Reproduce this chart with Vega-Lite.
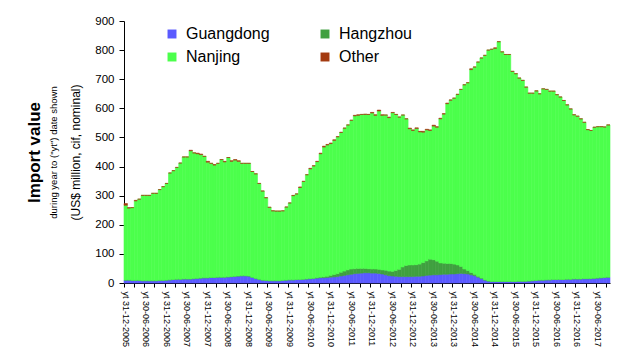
{
"$schema": "https://vega.github.io/schema/vega-lite/v6.json",
"width": 486, "height": 262,
"padding": {"left": 25, "top": 15, "right": 20, "bottom": 2},
"background": "white",
"config": {"view": {"stroke": null}, "font": "Liberation Sans",
  "axis": {"domainColor": "black", "tickColor": "black", "labelColor": "black", "titleColor": "black", "grid": false}},
"data": {"values": [
{"m":"2005-12","Guangdong":10,"Hangzhou":0,"Nanjing":257,"Other":6},
{"m":"2006-01","Guangdong":10,"Hangzhou":0,"Nanjing":247,"Other":2},
{"m":"2006-02","Guangdong":9,"Hangzhou":0,"Nanjing":250,"Other":0},
{"m":"2006-03","Guangdong":9,"Hangzhou":0,"Nanjing":273,"Other":2},
{"m":"2006-04","Guangdong":9,"Hangzhou":0,"Nanjing":279,"Other":0},
{"m":"2006-05","Guangdong":8,"Hangzhou":0,"Nanjing":293,"Other":0},
{"m":"2006-06","Guangdong":8,"Hangzhou":0,"Nanjing":293,"Other":0},
{"m":"2006-07","Guangdong":8,"Hangzhou":0,"Nanjing":293,"Other":0},
{"m":"2006-08","Guangdong":8,"Hangzhou":0,"Nanjing":300,"Other":0},
{"m":"2006-09","Guangdong":8,"Hangzhou":0,"Nanjing":300,"Other":0},
{"m":"2006-10","Guangdong":9,"Hangzhou":0,"Nanjing":312,"Other":0},
{"m":"2006-11","Guangdong":9,"Hangzhou":0,"Nanjing":322,"Other":0},
{"m":"2006-12","Guangdong":10,"Hangzhou":0,"Nanjing":332,"Other":0},
{"m":"2007-01","Guangdong":11,"Hangzhou":0,"Nanjing":367,"Other":0},
{"m":"2007-02","Guangdong":12,"Hangzhou":0,"Nanjing":374,"Other":0},
{"m":"2007-03","Guangdong":13,"Hangzhou":0,"Nanjing":384,"Other":0},
{"m":"2007-04","Guangdong":13,"Hangzhou":0,"Nanjing":399,"Other":0},
{"m":"2007-05","Guangdong":14,"Hangzhou":0,"Nanjing":419,"Other":0},
{"m":"2007-06","Guangdong":14,"Hangzhou":0,"Nanjing":419,"Other":0},
{"m":"2007-07","Guangdong":14,"Hangzhou":0,"Nanjing":440,"Other":2},
{"m":"2007-08","Guangdong":15,"Hangzhou":0,"Nanjing":432,"Other":0},
{"m":"2007-09","Guangdong":16,"Hangzhou":0,"Nanjing":428,"Other":2},
{"m":"2007-10","Guangdong":17,"Hangzhou":0,"Nanjing":424,"Other":2},
{"m":"2007-11","Guangdong":18,"Hangzhou":0,"Nanjing":417,"Other":0},
{"m":"2007-12","Guangdong":18,"Hangzhou":0,"Nanjing":397,"Other":3},
{"m":"2008-01","Guangdong":19,"Hangzhou":0,"Nanjing":392,"Other":0},
{"m":"2008-02","Guangdong":19,"Hangzhou":0,"Nanjing":386,"Other":2},
{"m":"2008-03","Guangdong":20,"Hangzhou":0,"Nanjing":391,"Other":0},
{"m":"2008-04","Guangdong":20,"Hangzhou":0,"Nanjing":404,"Other":0},
{"m":"2008-05","Guangdong":20,"Hangzhou":0,"Nanjing":396,"Other":2},
{"m":"2008-06","Guangdong":21,"Hangzhou":0,"Nanjing":410,"Other":0},
{"m":"2008-07","Guangdong":22,"Hangzhou":0,"Nanjing":396,"Other":2},
{"m":"2008-08","Guangdong":23,"Hangzhou":0,"Nanjing":399,"Other":2},
{"m":"2008-09","Guangdong":24,"Hangzhou":0,"Nanjing":394,"Other":2},
{"m":"2008-10","Guangdong":25,"Hangzhou":0,"Nanjing":386,"Other":0},
{"m":"2008-11","Guangdong":25,"Hangzhou":0,"Nanjing":386,"Other":0},
{"m":"2008-12","Guangdong":24,"Hangzhou":0,"Nanjing":387,"Other":0},
{"m":"2009-01","Guangdong":20,"Hangzhou":0,"Nanjing":363,"Other":0},
{"m":"2009-02","Guangdong":16,"Hangzhou":0,"Nanjing":359,"Other":0},
{"m":"2009-03","Guangdong":13,"Hangzhou":0,"Nanjing":329,"Other":0},
{"m":"2009-04","Guangdong":10,"Hangzhou":0,"Nanjing":306,"Other":0},
{"m":"2009-05","Guangdong":9,"Hangzhou":0,"Nanjing":284,"Other":0},
{"m":"2009-06","Guangdong":8,"Hangzhou":0,"Nanjing":252,"Other":0},
{"m":"2009-07","Guangdong":8,"Hangzhou":0,"Nanjing":240,"Other":0},
{"m":"2009-08","Guangdong":8,"Hangzhou":0,"Nanjing":239,"Other":0},
{"m":"2009-09","Guangdong":8,"Hangzhou":0,"Nanjing":239,"Other":0},
{"m":"2009-10","Guangdong":9,"Hangzhou":0,"Nanjing":239,"Other":0},
{"m":"2009-11","Guangdong":10,"Hangzhou":0,"Nanjing":251,"Other":0},
{"m":"2009-12","Guangdong":11,"Hangzhou":0,"Nanjing":264,"Other":0},
{"m":"2010-01","Guangdong":11,"Hangzhou":0,"Nanjing":289,"Other":1},
{"m":"2010-02","Guangdong":12,"Hangzhou":0,"Nanjing":294,"Other":0},
{"m":"2010-03","Guangdong":12,"Hangzhou":0,"Nanjing":316,"Other":2},
{"m":"2010-04","Guangdong":13,"Hangzhou":0,"Nanjing":336,"Other":0},
{"m":"2010-05","Guangdong":14,"Hangzhou":0,"Nanjing":358,"Other":0},
{"m":"2010-06","Guangdong":15,"Hangzhou":0,"Nanjing":377,"Other":2},
{"m":"2010-07","Guangdong":16,"Hangzhou":0,"Nanjing":386,"Other":1},
{"m":"2010-08","Guangdong":17,"Hangzhou":1,"Nanjing":399,"Other":1},
{"m":"2010-09","Guangdong":18,"Hangzhou":2,"Nanjing":424,"Other":2},
{"m":"2010-10","Guangdong":18,"Hangzhou":3,"Nanjing":446,"Other":3},
{"m":"2010-11","Guangdong":19,"Hangzhou":4,"Nanjing":451,"Other":2},
{"m":"2010-12","Guangdong":20,"Hangzhou":6,"Nanjing":453,"Other":2},
{"m":"2011-01","Guangdong":21,"Hangzhou":8,"Nanjing":461,"Other":2},
{"m":"2011-02","Guangdong":22,"Hangzhou":10,"Nanjing":470,"Other":1},
{"m":"2011-03","Guangdong":24,"Hangzhou":13,"Nanjing":480,"Other":1},
{"m":"2011-04","Guangdong":26,"Hangzhou":15,"Nanjing":491,"Other":0},
{"m":"2011-05","Guangdong":28,"Hangzhou":17,"Nanjing":498,"Other":0},
{"m":"2011-06","Guangdong":30,"Hangzhou":18,"Nanjing":511,"Other":0},
{"m":"2011-07","Guangdong":32,"Hangzhou":17,"Nanjing":525,"Other":2},
{"m":"2011-08","Guangdong":33,"Hangzhou":17,"Nanjing":526,"Other":2},
{"m":"2011-09","Guangdong":34,"Hangzhou":16,"Nanjing":529,"Other":0},
{"m":"2011-10","Guangdong":35,"Hangzhou":15,"Nanjing":529,"Other":1},
{"m":"2011-11","Guangdong":35,"Hangzhou":14,"Nanjing":530,"Other":0},
{"m":"2011-12","Guangdong":34,"Hangzhou":14,"Nanjing":536,"Other":2},
{"m":"2012-01","Guangdong":34,"Hangzhou":14,"Nanjing":528,"Other":2},
{"m":"2012-02","Guangdong":33,"Hangzhou":14,"Nanjing":544,"Other":3},
{"m":"2012-03","Guangdong":31,"Hangzhou":14,"Nanjing":531,"Other":2},
{"m":"2012-04","Guangdong":28,"Hangzhou":16,"Nanjing":533,"Other":0},
{"m":"2012-05","Guangdong":25,"Hangzhou":16,"Nanjing":527,"Other":2},
{"m":"2012-06","Guangdong":24,"Hangzhou":16,"Nanjing":545,"Other":1},
{"m":"2012-07","Guangdong":23,"Hangzhou":20,"Nanjing":536,"Other":0},
{"m":"2012-08","Guangdong":22,"Hangzhou":25,"Nanjing":523,"Other":0},
{"m":"2012-09","Guangdong":22,"Hangzhou":33,"Nanjing":522,"Other":0},
{"m":"2012-10","Guangdong":22,"Hangzhou":38,"Nanjing":504,"Other":0},
{"m":"2012-11","Guangdong":22,"Hangzhou":40,"Nanjing":468,"Other":2},
{"m":"2012-12","Guangdong":22,"Hangzhou":40,"Nanjing":462,"Other":2},
{"m":"2013-01","Guangdong":23,"Hangzhou":40,"Nanjing":468,"Other":2},
{"m":"2013-02","Guangdong":23,"Hangzhou":42,"Nanjing":454,"Other":2},
{"m":"2013-03","Guangdong":24,"Hangzhou":46,"Nanjing":448,"Other":3},
{"m":"2013-04","Guangdong":26,"Hangzhou":50,"Nanjing":450,"Other":2},
{"m":"2013-05","Guangdong":27,"Hangzhou":55,"Nanjing":442,"Other":2},
{"m":"2013-06","Guangdong":28,"Hangzhou":52,"Nanjing":459,"Other":3},
{"m":"2013-07","Guangdong":28,"Hangzhou":47,"Nanjing":460,"Other":2},
{"m":"2013-08","Guangdong":29,"Hangzhou":40,"Nanjing":495,"Other":2},
{"m":"2013-09","Guangdong":30,"Hangzhou":38,"Nanjing":512,"Other":2},
{"m":"2013-10","Guangdong":30,"Hangzhou":37,"Nanjing":549,"Other":2},
{"m":"2013-11","Guangdong":31,"Hangzhou":36,"Nanjing":561,"Other":1},
{"m":"2013-12","Guangdong":31,"Hangzhou":34,"Nanjing":570,"Other":0},
{"m":"2014-01","Guangdong":32,"Hangzhou":30,"Nanjing":586,"Other":0},
{"m":"2014-02","Guangdong":33,"Hangzhou":24,"Nanjing":608,"Other":0},
{"m":"2014-03","Guangdong":32,"Hangzhou":16,"Nanjing":633,"Other":0},
{"m":"2014-04","Guangdong":31,"Hangzhou":12,"Nanjing":645,"Other":0},
{"m":"2014-05","Guangdong":28,"Hangzhou":8,"Nanjing":697,"Other":3},
{"m":"2014-06","Guangdong":25,"Hangzhou":5,"Nanjing":712,"Other":0},
{"m":"2014-07","Guangdong":20,"Hangzhou":3,"Nanjing":736,"Other":0},
{"m":"2014-08","Guangdong":15,"Hangzhou":2,"Nanjing":756,"Other":0},
{"m":"2014-09","Guangdong":10,"Hangzhou":1,"Nanjing":771,"Other":0},
{"m":"2014-10","Guangdong":7,"Hangzhou":0,"Nanjing":793,"Other":0},
{"m":"2014-11","Guangdong":5,"Hangzhou":0,"Nanjing":798,"Other":0},
{"m":"2014-12","Guangdong":5,"Hangzhou":0,"Nanjing":801,"Other":2},
{"m":"2015-01","Guangdong":5,"Hangzhou":0,"Nanjing":824,"Other":0},
{"m":"2015-02","Guangdong":5,"Hangzhou":0,"Nanjing":789,"Other":0},
{"m":"2015-03","Guangdong":5,"Hangzhou":0,"Nanjing":780,"Other":0},
{"m":"2015-04","Guangdong":5,"Hangzhou":0,"Nanjing":780,"Other":0},
{"m":"2015-05","Guangdong":5,"Hangzhou":0,"Nanjing":722,"Other":0},
{"m":"2015-06","Guangdong":5,"Hangzhou":0,"Nanjing":714,"Other":0},
{"m":"2015-07","Guangdong":6,"Hangzhou":0,"Nanjing":698,"Other":0},
{"m":"2015-08","Guangdong":6,"Hangzhou":0,"Nanjing":690,"Other":0},
{"m":"2015-09","Guangdong":6,"Hangzhou":0,"Nanjing":667,"Other":0},
{"m":"2015-10","Guangdong":7,"Hangzhou":0,"Nanjing":645,"Other":0},
{"m":"2015-11","Guangdong":8,"Hangzhou":0,"Nanjing":644,"Other":0},
{"m":"2015-12","Guangdong":9,"Hangzhou":0,"Nanjing":651,"Other":0},
{"m":"2016-01","Guangdong":10,"Hangzhou":0,"Nanjing":640,"Other":0},
{"m":"2016-02","Guangdong":10,"Hangzhou":0,"Nanjing":657,"Other":0},
{"m":"2016-03","Guangdong":11,"Hangzhou":0,"Nanjing":654,"Other":0},
{"m":"2016-04","Guangdong":11,"Hangzhou":0,"Nanjing":648,"Other":0},
{"m":"2016-05","Guangdong":12,"Hangzhou":0,"Nanjing":647,"Other":0},
{"m":"2016-06","Guangdong":12,"Hangzhou":0,"Nanjing":635,"Other":0},
{"m":"2016-07","Guangdong":12,"Hangzhou":0,"Nanjing":627,"Other":0},
{"m":"2016-08","Guangdong":12,"Hangzhou":0,"Nanjing":615,"Other":0},
{"m":"2016-09","Guangdong":13,"Hangzhou":0,"Nanjing":599,"Other":0},
{"m":"2016-10","Guangdong":13,"Hangzhou":0,"Nanjing":585,"Other":0},
{"m":"2016-11","Guangdong":14,"Hangzhou":0,"Nanjing":564,"Other":0},
{"m":"2016-12","Guangdong":14,"Hangzhou":0,"Nanjing":559,"Other":0},
{"m":"2017-01","Guangdong":14,"Hangzhou":0,"Nanjing":550,"Other":0},
{"m":"2017-02","Guangdong":15,"Hangzhou":0,"Nanjing":537,"Other":0},
{"m":"2017-03","Guangdong":15,"Hangzhou":0,"Nanjing":512,"Other":0},
{"m":"2017-04","Guangdong":15,"Hangzhou":0,"Nanjing":509,"Other":0},
{"m":"2017-05","Guangdong":16,"Hangzhou":0,"Nanjing":519,"Other":0},
{"m":"2017-06","Guangdong":17,"Hangzhou":0,"Nanjing":520,"Other":0},
{"m":"2017-07","Guangdong":18,"Hangzhou":0,"Nanjing":519,"Other":0},
{"m":"2017-08","Guangdong":19,"Hangzhou":0,"Nanjing":517,"Other":0},
{"m":"2017-09","Guangdong":20,"Hangzhou":0,"Nanjing":523,"Other":0}
]},
"transform": [{"fold": ["Guangdong", "Hangzhou", "Nanjing", "Other"], "as": ["region", "value"]}],
"resolve": {"axis": {"y": "independent"}},
"layer": [
  {"mark": {"type": "bar", "strokeWidth": 0.6},
   "encoding": {
     "x": {"field": "m", "type": "ordinal", "scale": {"paddingInner": 0, "paddingOuter": 0},
       "axis": {"title": null, "bandPosition": 0, "labelAngle": 90, "labelFontSize": 9, "labelPadding": 4, "tickSize": 4,
         "labelOverlap": false, "labelBound": false,
         "values": ["2005-12","2006-03","2006-06","2006-09","2006-12","2007-03","2007-06","2007-09","2007-12","2008-03","2008-06","2008-09","2008-12","2009-03","2009-06","2009-09","2009-12","2010-03","2010-06","2010-09","2010-12","2011-03","2011-06","2011-09","2011-12","2012-03","2012-06","2012-09","2012-12","2013-03","2013-06","2013-09","2013-12","2014-03","2014-06","2014-09","2014-12","2015-03","2015-06","2015-09","2015-12","2016-03","2016-06","2016-09","2016-12","2017-03","2017-06","2017-09"],
         "labelExpr": "substring(datum.value,5,7)=='12' ? 'yt 31-12-'+substring(datum.value,0,4) : (substring(datum.value,5,7)=='06' ? 'yt 30-06-'+substring(datum.value,0,4) : '')"}},
     "y": {"field": "value", "type": "quantitative", "stack": "zero", "scale": {"domain": [0, 900]},
       "axis": {"orient": "left", "title": "(US$ million, cif, nominal)", "titleFontSize": 12, "titleFontWeight": "normal", "titlePadding": 12,
         "values": [0,100,200,300,400,500,600,700,800,900], "labelFontSize": 11.5, "tickSize": 5, "labelPadding": 5}},
     "order": {"field": "region", "sort": "ascending"},
     "color": {"field": "region", "type": "nominal",
       "scale": {"domain": ["Guangdong", "Hangzhou", "Nanjing", "Other"], "range": ["#5a5aff", "#40a040", "#4cff4c", "#a33a10"]},
       "legend": {"title": null, "orient": "none", "legendX": 40, "legendY": 5, "columns": 2, "direction": "horizontal", "columnPadding": 47, "rowPadding": 7,
         "padding": 0, "symbolType": "square", "symbolSize": 80, "symbolStrokeWidth": 0, "labelFontSize": 16, "labelColor": "black", "labelOffset": 6}},
     "stroke": {"field": "region", "type": "nominal",
       "scale": {"domain": ["Guangdong", "Hangzhou", "Nanjing", "Other"], "range": ["#5a5aff", "#40a040", "#4cff4c", "#a33a10"]},
       "legend": null}
   }},
  {"mark": {"type": "rule", "opacity": 0},
   "encoding": {"y": {"field": "value", "type": "quantitative", "scale": {"domain": [0, 900]},
     "axis": {"orient": "left", "offset": 66, "labels": false, "ticks": false, "domain": false, "title": "during year to (\"yt\") date shown",
       "titleFontSize": 9.5, "titleFontWeight": "normal", "titlePadding": 0}}}},
  {"mark": {"type": "rule", "opacity": 0},
   "encoding": {"y": {"field": "value", "type": "quantitative", "scale": {"domain": [0, 900]},
     "axis": {"orient": "left", "offset": 81, "labels": false, "ticks": false, "domain": false, "title": "Import value",
       "titleFontSize": 17, "titleFontWeight": "bold", "titlePadding": 0}}}}
]
}
